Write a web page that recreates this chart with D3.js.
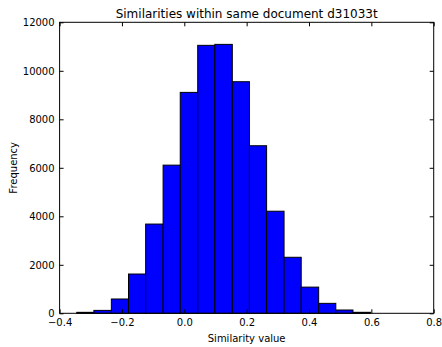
<!DOCTYPE html>
<meta charset="utf-8">
<style>
html, body { margin: 0; background: white; }
svg { display: block; }
text { font-family: "DejaVu Sans", sans-serif; fill: black; }
</style>
<body>
<script src="https://cdn.jsdelivr.net/npm/d3@7"></script>
<script>

var width = 442,
    height = 347;

// histogram bin edges and counts
var binEdges = [-0.345, -0.290, -0.234, -0.179, -0.124, -0.068, -0.013, 0.043, 0.098,
                0.154, 0.209, 0.264, 0.320, 0.375, 0.431, 0.486, 0.541, 0.597];
var counts = [40, 120, 590, 1620, 3680, 6110, 9110, 11050, 11090,
              9550, 6910, 4210, 2310, 1080, 410, 136, 41];
var xTicks = [-0.4, -0.2, 0.0, 0.2, 0.4, 0.6, 0.8];
var yTicks = [0, 2000, 4000, 6000, 8000, 10000, 12000];

var margin = {top: 22.3, right: 8.3, bottom: 33.7, left: 59.6};

var svg = d3.select("body").append("svg")
    .attr("width", width)
    .attr("height", height);

var x = d3.scaleLinear()
    .domain([-0.4, 0.8])
    .range([margin.left, width - margin.right]);

var y = d3.scaleLinear()
    .domain([0, 12000])
    .range([height - margin.bottom, margin.top]);

var bins = counts.map(function(c, i) {
    return {x0: binEdges[i], x1: binEdges[i + 1], n: c};
});

svg.append("g")
    .selectAll("rect")
    .data(bins)
  .enter().append("rect")
    .attr("x", d => x(d.x0))
    .attr("y", d => y(d.n))
    .attr("width", d => x(d.x1) - x(d.x0))
    .attr("height", d => y(0) - y(d.n))
    .style("fill", "#0000ff")
    .style("stroke", "black")
    .style("stroke-width", 1);

// frame
svg.append("rect")
    .attr("x", x.range()[0])
    .attr("y", y.range()[1])
    .attr("width", x.range()[1] - x.range()[0])
    .attr("height", y.range()[0] - y.range()[1])
    .style("fill", "none")
    .style("stroke", "black")
    .style("stroke-width", 1);

var fmtX = d => d3.format(".1f")(d).replace("-", "\u2212");

// axes, matplotlib classic style: ticks inward on all sides
var axBottom = svg.append("g")
    .attr("transform", "translate(0," + y(0) + ")")
    .call(d3.axisBottom(x).tickValues(xTicks).tickFormat(fmtX).tickSizeInner(-4).tickSizeOuter(0).tickPadding(6));
var axTop = svg.append("g")
    .attr("transform", "translate(0," + y(12000) + ")")
    .call(d3.axisTop(x).tickValues(xTicks).tickFormat("").tickSizeInner(-4).tickSizeOuter(0));
var axLeft = svg.append("g")
    .attr("transform", "translate(" + x(-0.4) + ",0)")
    .call(d3.axisLeft(y).tickValues(yTicks).tickFormat(d3.format("d")).tickSizeInner(-4).tickSizeOuter(0).tickPadding(5));
var axRight = svg.append("g")
    .attr("transform", "translate(" + x(0.8) + ",0)")
    .call(d3.axisRight(y).tickValues(yTicks).tickFormat("").tickSizeInner(-4).tickSizeOuter(0));

[axBottom, axTop, axLeft, axRight].forEach(function(g) {
    g.select(".domain").remove();
    g.selectAll("line").style("stroke", "black");
    g.selectAll("text")
        .style("font-family", "DejaVu Sans")
        .style("font-size", "10px")
        .style("fill", "black");
});

svg.append("text")
    .attr("x", (x.range()[0] + x.range()[1]) / 2)
    .attr("y", 18)
    .attr("text-anchor", "middle")
    .style("font-size", "12px")
    .text("Similarities within same document d31033t");

svg.append("text")
    .attr("x", (x.range()[0] + x.range()[1]) / 2)
    .attr("y", 342)
    .attr("text-anchor", "middle")
    .style("font-size", "10px")
    .text("Similarity value");

svg.append("text")
    .attr("transform", "translate(17," + (y(6000)) + ") rotate(-90)")
    .attr("text-anchor", "middle")
    .style("font-size", "10px")
    .text("Frequency");

</script>
